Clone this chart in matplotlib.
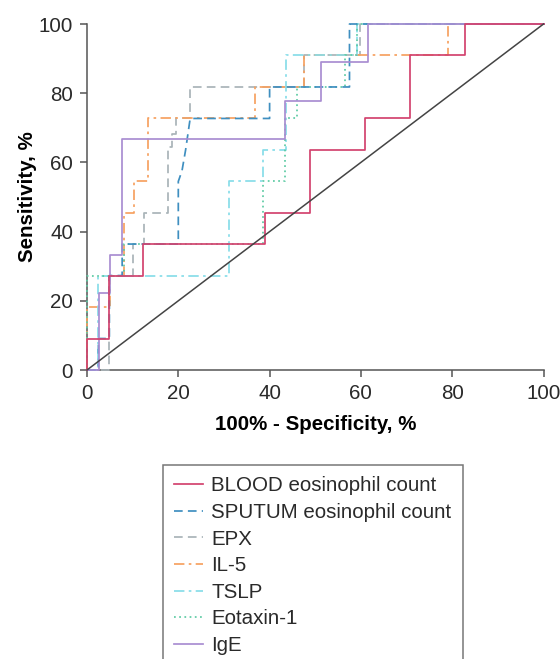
import matplotlib
matplotlib.use("Agg")
import matplotlib.pyplot as plt

# ROC corner points (percent)
blood_fpr = [0, 0, 4.9, 4.9, 12.2, 12.2, 39.0, 39.0, 48.8, 48.8, 61.0, 61.0, 70.7, 70.7, 82.9, 82.9, 100]
blood_tpr = [0, 9.1, 9.1, 27.3, 27.3, 36.4, 36.4, 45.5, 45.5, 63.6, 63.6, 72.7, 72.7, 90.9, 90.9, 100, 100]

sputum_fpr = [0, 2.5, 2.5, 4.9, 4.9, 7.7, 7.7, 20.0, 20.0, 20.8, 21.6, 22.6, 40.0, 40.0, 57.5, 57.5, 100]
sputum_tpr = [0, 0, 9.1, 9.1, 27.3, 27.3, 36.4, 36.4, 54.5, 57.5, 63.6, 72.7, 72.7, 81.8, 81.8, 100, 100]

epx_fpr = [0, 4.9, 4.9, 10.1, 10.1, 12.5, 12.5, 17.7, 17.7, 18.6, 18.6, 19.4, 19.4, 22.5, 22.5,
           47.6, 47.6, 59.8, 59.8, 100]
epx_tpr = [0, 0, 27.3, 27.3, 36.4, 36.4, 45.5, 45.5, 64.5, 64.5, 68.2, 68.2, 72.7, 72.7, 81.8,
           81.8, 90.9, 90.9, 100, 100]

il5_fpr = [0, 0, 5.1, 5.1, 8.0, 8.0, 10.4, 10.4, 13.3, 13.3, 36.9, 36.9, 47.6, 47.6, 79.0, 79.0, 100]
il5_tpr = [0, 18.2, 18.2, 27.3, 27.3, 45.5, 45.5, 54.5, 54.5, 72.7, 72.7, 81.8, 81.8, 90.9, 90.9, 100, 100]

tslp_fpr = [0, 2.5, 2.5, 31.1, 31.1, 38.5, 38.5, 43.6, 43.6, 59.1, 59.1, 100]
tslp_tpr = [0, 0, 27.3, 27.3, 54.5, 54.5, 63.6, 63.6, 90.9, 90.9, 100, 100]

eotaxin_fpr = [0, 0, 8.0, 8.0, 38.5, 38.5, 43.4, 43.4, 45.9, 45.9, 56.5, 56.5, 59.2, 59.2, 100]
eotaxin_tpr = [0, 27.3, 27.3, 36.4, 36.4, 54.5, 54.5, 72.7, 72.7, 81.8, 81.8, 90.9, 90.9, 100, 100]

ige_fpr = [0, 2.6, 2.6, 5.1, 5.1, 7.7, 7.7, 43.4, 43.4, 51.3, 51.3, 61.6, 61.6, 100]
ige_tpr = [0, 0, 22.2, 22.2, 33.3, 33.3, 66.7, 66.7, 77.8, 77.8, 88.9, 88.9, 100, 100]

ticks = [0, 20, 40, 60, 80, 100]

FS = 14.8
plt.rcParams.update({
    "font.family": ["Liberation Sans", "DejaVu Sans"],
    "font.size": FS,
    "text.color": "#2a2a2a",
    "axes.edgecolor": "#555555",
    "xtick.color": "#555555",
    "ytick.color": "#555555",
    "xtick.labelcolor": "#2a2a2a",
    "ytick.labelcolor": "#2a2a2a",
})

fig = plt.figure(figsize=(5.6, 6.59), dpi=100)
ax = fig.add_axes([87 / 560, 1 - 370 / 659, 456.5 / 560, 346 / 659])

lw = 1.25
curves = [
    ("BLOOD eosinophil count", blood_fpr, blood_tpr, "#d3436e", "-", 6),
    ("SPUTUM eosinophil count", sputum_fpr, sputum_tpr, "#3f8fc0", (0, (5, 3)), 4),
    ("EPX", epx_fpr, epx_tpr, "#a9b4b8", (0, (5, 3)), 3),
    ("IL-5", il5_fpr, il5_tpr, "#f6a160", (0, (6, 2.5, 1.5, 2.5)), 3),
    ("TSLP", tslp_fpr, tslp_tpr, "#88dde9", (0, (6, 2.5, 1.5, 2.5)), 3),
    ("Eotaxin-1", eotaxin_fpr, eotaxin_tpr, "#5ccaa3", (0, (1, 2)), 3),
    ("IgE", ige_fpr, ige_tpr, "#a98dd2", "-", 5),
]
handles = []
for label, x, y, c, ls, z in curves:
    (h,) = ax.plot(x, y, color=c, linestyle=ls, linewidth=lw, label=label, zorder=z)
    handles.append(h)

ax.plot([0, 100], [0, 100], color="#444444", linewidth=1.1, zorder=7)

ax.set_xlim(0, 100)
ax.set_ylim(0, 100)
ax.set_xticks(ticks)
ax.set_yticks(ticks)
ax.tick_params(direction="out", length=5, width=1.1, pad=5, labelsize=FS)
for s in ("top", "right"):
    ax.spines[s].set_visible(False)
for s in ("left", "bottom"):
    ax.spines[s].set_linewidth(1.1)
for line in ax.lines:
    line.set_clip_on(False)

ax.set_xlabel("100% - Specificity, %", fontweight="bold", fontsize=FS, labelpad=9)
ax.set_ylabel("Sensitivity, %", fontweight="bold", fontsize=FS, labelpad=1)

leg = fig.legend(handles=handles, loc="upper left", bbox_to_anchor=(163 / 560, 1 - 465 / 659),
                 fontsize=FS, frameon=True, fancybox=False, handlelength=1.4,
                 labelspacing=0.37, borderpad=0.55, handletextpad=0.4, borderaxespad=0)
leg.get_frame().set_edgecolor("#555555")
leg.get_frame().set_linewidth(1.1)

fig.savefig("out.png", dpi=100)
